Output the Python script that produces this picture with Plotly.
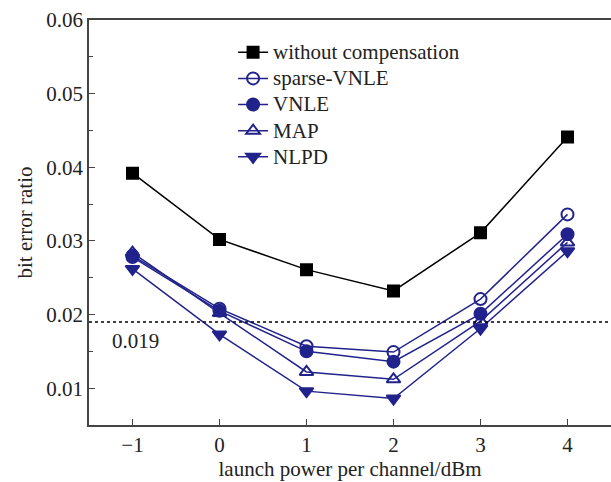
import plotly.graph_objects as go

power = [-1, 0, 1, 2, 3, 4]
without_comp = [0.0392, 0.0302, 0.0261, 0.0232, 0.0311, 0.0441]
sparse_vnle = [0.0280, 0.0208, 0.0157, 0.0149, 0.0221, 0.0336]
vnle = [0.0278, 0.0205, 0.0150, 0.0136, 0.0201, 0.0309]
map_vals = [0.0284, 0.0202, 0.0122, 0.0112, 0.0191, 0.0298]
nlpd = [0.0262, 0.0173, 0.0096, 0.0086, 0.0181, 0.0286]
threshold = 0.019

navy = "#22228c"
font = "Liberation Serif"

fig = go.Figure()
series = [
    ("without compensation", without_comp, "black", "square", "black"),
    ("sparse-VNLE", sparse_vnle, navy, "circle-open", navy),
    ("VNLE", vnle, navy, "circle", navy),
    ("MAP", map_vals, navy, "triangle-up-open", navy),
    ("NLPD", nlpd, navy, "triangle-down", navy),
]
for name, vals, col, sym, mcol in series:
    fig.add_trace(go.Scatter(
        x=power, y=vals, name=f'<span style="font-size:21px">{name}</span>',
        mode="lines+markers",
        line=dict(color=col, width=1.5),
        marker=dict(symbol=sym, size=12 if "square" not in sym else 11,
                    color=mcol, line=dict(color=mcol, width=2)),
    ))

fig.add_shape(type="line", xref="paper", yref="y", x0=0, x1=1,
              y0=threshold, y1=threshold,
              line=dict(color="black", width=1.5, dash="dot"))
fig.add_annotation(x=-0.97, y=threshold, yshift=-19, text=f"{threshold}",
                   showarrow=False, font=dict(family=font, size=21, color="#222"))

fig.update_layout(
    width=611, height=482,
    margin=dict(l=89, r=0, t=20, b=57),
    paper_bgcolor="white", plot_bgcolor="white",
    font=dict(family=font, size=21, color="#222"),
    showlegend=True,
    legend=dict(x=0.276, y=0.965, xanchor="left", yanchor="top",
                bgcolor="rgba(0,0,0,0)", font=dict(family=font, size=17.8),
                tracegroupgap=0),
)
fig.update_xaxes(
    range=[-1.5, 4.5], tickmode="array", tickvals=power,
    ticks="inside", ticklen=6, tickcolor="#444",
    showline=True, linecolor="#444", linewidth=1.5, mirror=True,
    showgrid=False, zeroline=False,
    title=dict(text="launch power per channel/dBm", standoff=1,
               font=dict(family=font, size=21)),
)
fig.update_yaxes(
    range=[0.005, 0.06], tick0=0, dtick=0.01, tickformat=".2f",
    ticks="inside", ticklen=6, tickcolor="#444",
    minor=dict(dtick=0.005, tick0=0, ticks="inside", ticklen=4, tickcolor="#444"),
    showline=True, linecolor="#444", linewidth=1.5, mirror=False,
    showgrid=False, zeroline=False,
    title=dict(text="bit error ratio", standoff=8,
               font=dict(family=font, size=21)),
)

fig.write_html("out.html")
